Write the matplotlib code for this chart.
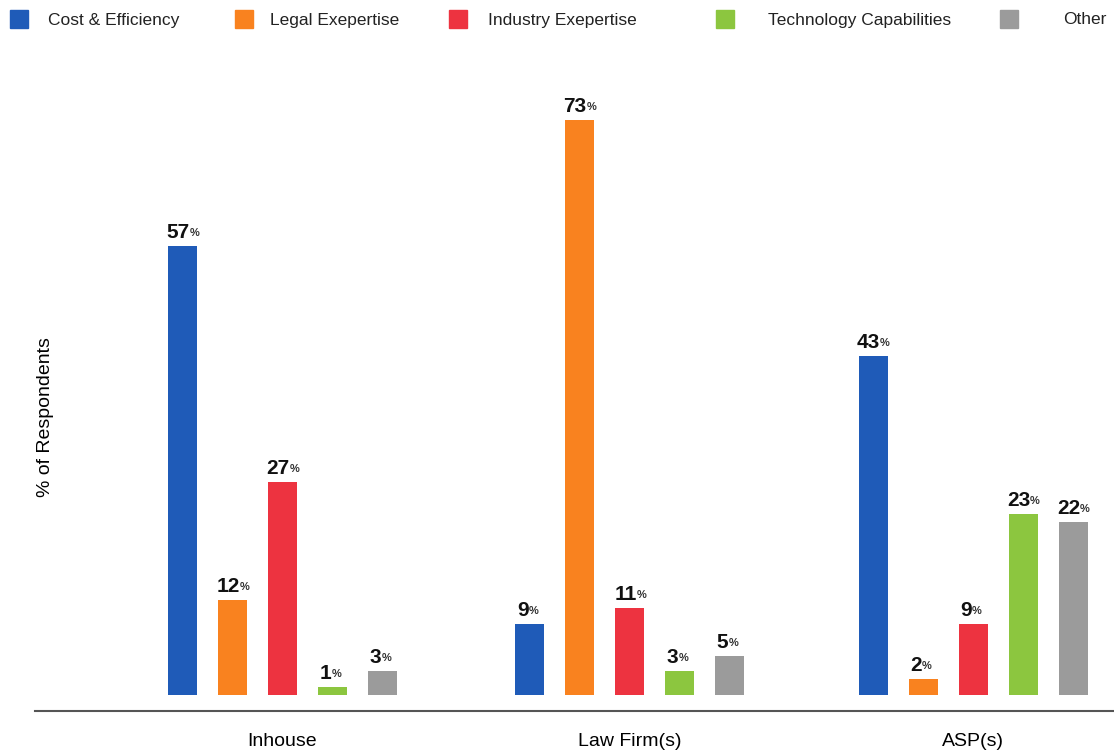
import matplotlib
matplotlib.use("Agg")
import matplotlib.pyplot as plt
from matplotlib import font_manager
from matplotlib.patches import Rectangle
from matplotlib.transforms import offset_copy

plt.rcParams['font.family'] = ['Liberation Sans', 'DejaVu Sans']

groups = ["Inhouse", "Law Firm(s)", "ASP(s)"]
series = ["Cost & Efficiency", "Legal Exepertise", "Industry Exepertise",
          "Technology Capabilities", "Other"]
cost = [57, 9, 43]
legal = [12, 73, 2]
industry = [27, 11, 9]
tech = [1, 3, 23]
other = [3, 5, 22]
values = [cost, legal, industry, tech, other]
colors = ["#1f5bb8", "#f9821f", "#ed3340", "#8cc63f", "#9b9b9b"]

W, H = 1114, 754
fig = plt.figure(figsize=(W / 100, H / 100), dpi=100)
ax = fig.add_axes([35 / W, 43 / H, 1 - 35 / W, (711 - 64.6) / H])

group_x = [0, 1.0, 1.99]
step = 50 / 347
width = 29 / 347
for i, (vals, col) in enumerate(zip(values, colors)):
    xs = [g + (i - 2) * step for g in group_x]
    ax.bar(xs, vals, width=width, color=col, zorder=2)
    for x, v in zip(xs, vals):
        nd = len(str(v))
        joint = offset_copy(ax.transData, fig=fig, x=(nd - 1) * 8.0 - 1, y=4, units='dots')
        ax.text(x, v, str(v), transform=joint, ha='right', va='bottom',
                fontsize=15, fontweight='bold', color='#111111')
        ax.text(x, v, "%", transform=offset_copy(joint, fig=fig, x=0, y=4, units='dots'),
                ha='left', va='bottom', fontsize=8, fontweight='bold', color='#333333')

ax.set_xlim((35 - 282.5) / 347, (1114 - 282.5) / 347)
ax.set_ylim(-2.03, 80)
for s in ['top', 'right', 'left']:
    ax.spines[s].set_visible(False)
ax.spines['bottom'].set_color('#555555')
ax.spines['bottom'].set_linewidth(1.5)
ax.set_yticks([])
ax.set_xticks(group_x)
ax.set_xticklabels(groups, fontsize=14)
ax.tick_params(axis='x', length=0, pad=16)
ax.set_ylabel("% of Respondents", fontsize=14, labelpad=2)
ax.yaxis.set_label_coords(19 / (W - 35), (711 - 417) / (711 - 64.6))

# legend
sq_x = [10, 235, 449, 716, 1000]
tx_x = [48, 270, 488, 768, 1063]
for name, col, sx, tx in zip(series, colors, sq_x, tx_x):
    fig.patches.append(Rectangle((sx / W, 1 - 28 / H), 18 / W, 18 / H,
                                 transform=fig.transFigure, color=col))
    fig.text(tx / W, 1 - 20 / H, name, ha='left', va='center', fontsize=12.5,
             color='#222222')

fig.savefig("out.png", dpi=100)
